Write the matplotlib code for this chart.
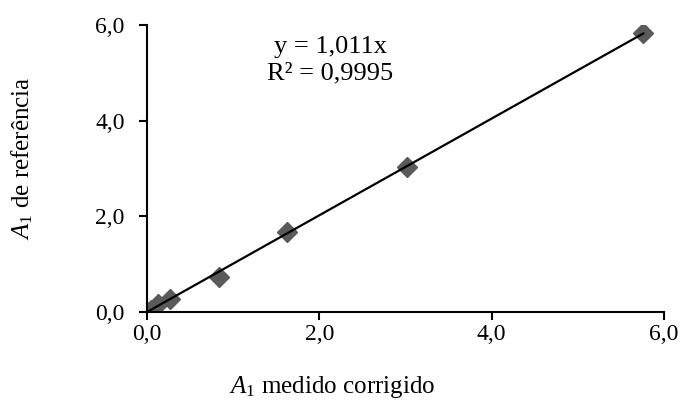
import matplotlib
matplotlib.use("Agg")
import matplotlib.pyplot as plt
import numpy as np

x_vals = [0.0, 0.05, 0.13, 0.27, 0.83, 1.62, 3.02, 5.76]
y_vals = [0.0, 0.04, 0.16, 0.28, 0.73, 1.68, 3.03, 5.84]
slope = 1.011
r2_text = "R² = 0,9995"
eq_text = "y = 1,011x"
ticks = [0, 2, 4, 6]
tick_labels = ["0,0", "2,0", "4,0", "6,0"]

plt.rcParams['font.family'] = ['Liberation Serif', 'DejaVu Serif']
plt.rcParams['mathtext.fontset'] = 'custom'
plt.rcParams['mathtext.rm'] = 'Liberation Serif'
plt.rcParams['mathtext.it'] = 'Liberation Serif:italic'

fig = plt.figure(figsize=(6.84, 4.03), dpi=100)
ax = fig.add_axes([147/684, 1-312/403, (664-147)/684, (312-25)/403])

ax.plot(x_vals, y_vals, linestyle='none', marker='D', markersize=10.5,
        color='#5a5a5a', zorder=2)
xf = np.array([0, max(x_vals)])
ax.plot(xf, slope*xf, color='black', lw=1.6, zorder=3)

ax.set_xlim(0, 6)
ax.set_ylim(0, 6)
ax.set_xticks(ticks)
ax.set_xticklabels(tick_labels)
ax.set_yticks(ticks)
ax.set_yticklabels(tick_labels)
for s in ['top', 'right']:
    ax.spines[s].set_visible(False)
for s in ['left', 'bottom']:
    ax.spines[s].set_linewidth(1.5)
ax.tick_params(direction='out', length=6, width=1.5, labelsize=17)
ax.tick_params(axis='y', pad=10)
ax.tick_params(axis='x', pad=3)

ax.text((330-147)/517, (312-47)/287, eq_text, ha='center', va='center',
        fontsize=19, transform=ax.transAxes)
ax.text((330-147)/517, (312-73)/287, r2_text, ha='center', va='center',
        fontsize=19, transform=ax.transAxes)

ax.set_xlabel(r"$\mathit{A}_{\mathit{1}}$ medido corrigido", fontsize=18, va='center')
ax.set_ylabel(r"$\mathit{A}_{\mathit{1}}$ de referência", fontsize=18, va='center')
ax.xaxis.set_label_coords((332-147)/517, (312-387)/287)
ax.yaxis.set_label_coords((22-147)/517, (312-158)/287)

fig.savefig("out.png", dpi=100)
